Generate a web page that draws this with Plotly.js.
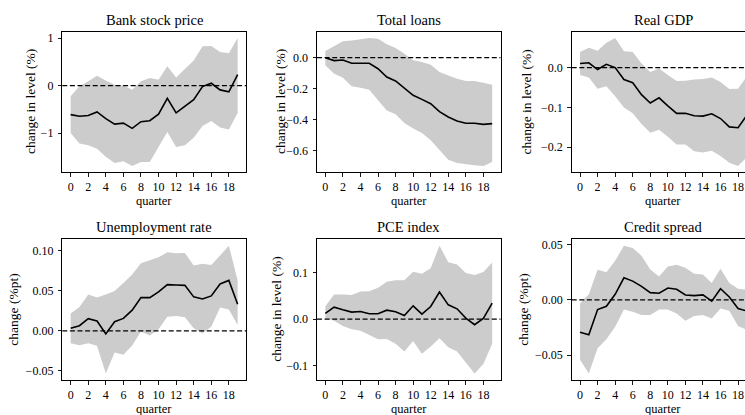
<!DOCTYPE html>
<html>
<head>
<meta charset="utf-8">
<script src="https://cdn.plot.ly/plotly-3.0.1.min.js"></script>
<style>
html, body { margin: 0; padding: 0; overflow: hidden; background: #fff; }
#chart { width: 760px; height: 415px; }
</style>
</head>
<body>
<div id="chart"></div>
<script>
// ---------- data ----------
const quarters = [0,1,2,3,4,5,6,7,8,9,10,11,12,13,14,15,16,17,18,19];
const xTickVals = [0,2,4,6,8,10,12,14,16,18];

const panelTitles = ["Bank stock price","Total loans","Real GDP","Unemployment rate","PCE index","Credit spread"];
const yLabels = ["change in level (%)","change in level (%)","change in level (%)","change (%pt)","change in level (%)","change (%pt)"];
const xLabel = "quarter";

const bankMid   = [-0.61,-0.645,-0.63,-0.555,-0.695,-0.81,-0.79,-0.90,-0.76,-0.74,-0.60,-0.27,-0.575,-0.435,-0.295,-0.02,0.05,-0.09,-0.13,0.23];
const bankUp    = [-0.225,-0.015,0.09,0.21,0.11,0.02,0.0,-0.085,0.09,0.16,0.125,0.41,0.17,0.36,0.53,0.83,0.835,0.71,0.68,1.0];
const bankLo    = [-1.0,-1.22,-1.255,-1.33,-1.5,-1.63,-1.59,-1.69,-1.61,-1.61,-1.29,-0.975,-1.29,-1.255,-1.095,-0.85,-0.745,-0.88,-0.925,-0.575];

const loansMid  = [0.0,-0.019,-0.015,-0.036,-0.036,-0.036,-0.071,-0.124,-0.15,-0.197,-0.242,-0.268,-0.296,-0.347,-0.381,-0.407,-0.422,-0.422,-0.429,-0.424];
const loansUp   = [0.043,0.075,0.105,0.111,0.118,0.126,0.122,0.086,0.062,0.026,-0.017,-0.028,-0.045,-0.092,-0.114,-0.135,-0.15,-0.15,-0.161,-0.174];
const loansLo   = [-0.049,-0.103,-0.129,-0.184,-0.193,-0.206,-0.274,-0.339,-0.364,-0.42,-0.456,-0.484,-0.531,-0.596,-0.656,-0.677,-0.686,-0.692,-0.696,-0.671];

const gdpMid    = [0.010,0.012,-0.005,0.008,0.0,-0.030,-0.038,-0.068,-0.089,-0.076,-0.096,-0.115,-0.115,-0.121,-0.122,-0.116,-0.128,-0.149,-0.151,-0.120];
const gdpUp     = [0.039,0.050,0.042,0.062,0.074,0.041,0.039,0.010,-0.011,-0.0025,-0.019,-0.034,-0.033,-0.030,-0.029,-0.025,-0.036,-0.054,-0.053,-0.022];
const gdpLo     = [-0.019,-0.025,-0.053,-0.047,-0.072,-0.100,-0.115,-0.142,-0.164,-0.156,-0.174,-0.193,-0.193,-0.210,-0.213,-0.209,-0.222,-0.239,-0.247,-0.225];

const unempMid  = [0.0033,0.0066,0.0153,0.0124,-0.0037,0.0116,0.0157,0.026,0.0417,0.0417,0.0488,0.0579,0.0574,0.057,0.0426,0.040,0.0438,0.0587,0.0632,0.0335];
const unempUp   = [0.0219,0.030,0.0455,0.0417,0.0455,0.050,0.060,0.0707,0.0847,0.0888,0.0921,0.0983,0.0971,0.0975,0.0818,0.0839,0.0826,0.0942,0.1066,0.0632];
const unempLo   = [-0.0153,-0.018,-0.0153,-0.0186,-0.0533,-0.0269,-0.0298,-0.0182,-0.0008,-0.0058,0.002,0.0178,0.0186,0.017,0.0033,-0.0029,0.0054,0.0293,0.0269,0.0074];

const pceMid    = [0.012,0.0255,0.0199,0.0149,0.0163,0.0113,0.0113,0.0191,0.0156,0.0078,0.0284,0.0106,0.027,0.058,0.0305,0.022,0.0021,-0.012,0.0014,0.034];
const pceUp     = [0.0277,0.0525,0.0525,0.0518,0.0589,0.0596,0.0674,0.0801,0.083,0.083,0.1014,0.0972,0.1092,0.1574,0.122,0.117,0.0986,0.0943,0.1007,0.1213];
const pceLo     = [0.0014,-0.0035,-0.0149,-0.022,-0.0248,-0.034,-0.0433,-0.0426,-0.0532,-0.0695,-0.0468,-0.0745,-0.0589,-0.0411,-0.0603,-0.0695,-0.0943,-0.117,-0.0965,-0.0532];

const spreadMid = [-0.0293,-0.0316,-0.0087,-0.0057,0.0051,0.020,0.017,0.0122,0.0066,0.006,0.0107,0.0096,0.0045,0.0039,0.0045,-0.0012,0.0101,0.0027,-0.0078,-0.010];
const spreadUp  = [-0.0033,0.0051,0.0272,0.0251,0.0355,0.049,0.0469,0.040,0.0275,0.0212,0.0301,0.0319,0.029,0.0236,0.023,0.0152,0.0281,0.0152,0.0101,0.0093];
const spreadLo  = [-0.054,-0.0666,-0.0436,-0.0355,-0.0242,-0.0087,-0.0107,-0.0137,-0.0137,-0.0087,-0.0087,-0.0122,-0.0188,-0.0146,-0.0137,-0.0167,-0.0078,-0.0099,-0.0236,-0.027];

const bankTicks   = [-1, 0, 1];
const bankTickTxt = ["\u22121", "0", "1"];
const loansTicks   = [-0.6, -0.4, -0.2, 0.0];
const loansTickTxt = ["\u22120.6", "\u22120.4", "\u22120.2", "0.0"];
const gdpTicks   = [-0.2, -0.1, 0.0];
const gdpTickTxt = ["\u22120.2", "\u22120.1", "0.0"];
const unempTicks   = [-0.05, 0.00, 0.05, 0.10];
const unempTickTxt = ["\u22120.05", "0.00", "0.05", "0.10"];
const pceTicks   = [-0.1, 0.0, 0.1];
const pceTickTxt = ["\u22120.1", "0.0", "0.1"];
const spreadTicks   = [-0.05, 0.00, 0.05];
const spreadTickTxt = ["\u22120.05", "0.00", "0.05"];

// ---------- layout geometry ----------
const W = 760, H = 415;
const colPx = [[62.3, 246.0], [317.0, 500.5], [571.7, 755.2]];
const rowPx = [[31.7, 172.3], [239.3, 380.0]];
const ylabX = [30.0, 280.0, 525.5, 14.0, 277.0, 524.0];

const panels = [
  {mid: bankMid,   up: bankUp,   lo: bankLo,   tv: bankTicks,   tt: bankTickTxt,   yr: [-1.825, 1.135]},
  {mid: loansMid,  up: loansUp,  lo: loansLo,  tv: loansTicks,  tt: loansTickTxt,  yr: [-0.737, 0.167]},
  {mid: gdpMid,    up: gdpUp,    lo: gdpLo,    tv: gdpTicks,    tt: gdpTickTxt,    yr: [-0.263, 0.090]},
  {mid: unempMid,  up: unempUp,  lo: unempLo,  tv: unempTicks,  tt: unempTickTxt,  yr: [-0.0613, 0.1146]},
  {mid: pceMid,    up: pceUp,    lo: pceLo,    tv: pceTicks,    tt: pceTickTxt,    yr: [-0.1307, 0.1711]},
  {mid: spreadMid, up: spreadUp, lo: spreadLo, tv: spreadTicks, tt: spreadTickTxt, yr: [-0.0724, 0.0548]}
];

const FONT = "Liberation Serif, Times New Roman, serif";
const traces = [];
const layout = {
  width: W, height: H,
  margin: {l: 0, r: 0, t: 0, b: 0},
  paper_bgcolor: "#ffffff", plot_bgcolor: "#ffffff",
  showlegend: false,
  font: {family: FONT, color: "#000000", size: 12},
  shapes: [], annotations: []
};

panels.forEach((p, i) => {
  const n = i + 1;
  const xa = "x" + (n === 1 ? "" : n), ya = "y" + (n === 1 ? "" : n);
  const col = colPx[i % 3], row = rowPx[Math.floor(i / 3)];
  traces.push({x: quarters, y: p.lo, xaxis: xa, yaxis: ya, type: "scatter", mode: "lines",
               line: {width: 0, color: "rgba(0,0,0,0)"}, hoverinfo: "skip"});
  traces.push({x: quarters, y: p.up, xaxis: xa, yaxis: ya, type: "scatter", mode: "lines",
               fill: "tonexty", fillcolor: "#cccccc", line: {width: 0, color: "rgba(0,0,0,0)"}, hoverinfo: "skip"});
  traces.push({x: quarters, y: p.mid, xaxis: xa, yaxis: ya, type: "scatter", mode: "lines",
               line: {width: 1.6, color: "#000000"}});

  const axCommon = {
    showline: true, mirror: true, linecolor: "#000000", linewidth: 1,
    ticks: "outside", ticklen: 3.5, tickwidth: 0.9, tickcolor: "#000000",
    showgrid: false, zeroline: false, fixedrange: true,
    tickfont: {family: FONT, size: 12, color: "#000000"}
  };
  layout["xaxis" + (n === 1 ? "" : n)] = Object.assign({}, axCommon, {
    domain: [col[0] / W, col[1] / W], anchor: ya, range: [-0.95, 19.95],
    tickmode: "array", tickvals: xTickVals, ticktext: xTickVals.map(String)
  });
  layout["yaxis" + (n === 1 ? "" : n)] = Object.assign({}, axCommon, {
    domain: [1 - row[1] / H, 1 - row[0] / H], anchor: xa, range: p.yr,
    tickmode: "array", tickvals: p.tv, ticktext: p.tt, ticklabelstandoff: 2
  });

  layout.shapes.push({type: "line", xref: xa + " domain", yref: ya, x0: 0, x1: 1, y0: 0, y1: 0,
                      line: {color: "#000000", width: 1.2, dash: "5px,2.6px"}, layer: "above"});

  const cx = (col[0] + col[1]) / 2 / W;
  layout.annotations.push({text: panelTitles[i], xref: "paper", yref: "paper", x: cx,
    y: 1 - (row[0] - 12.2) / H, xanchor: "center", yanchor: "middle", showarrow: false,
    font: {family: FONT, size: 14.5, color: "#000000"}});
  layout.annotations.push({text: xLabel, xref: "paper", yref: "paper", x: cx,
    y: 1 - (row[1] + 28.5) / H, xanchor: "center", yanchor: "middle", showarrow: false,
    font: {family: FONT, size: 12.5, color: "#000000"}});
  layout.annotations.push({text: yLabels[i], xref: "paper", yref: "paper", x: ylabX[i] / W,
    y: 1 - (row[0] + row[1]) / 2 / H, xanchor: "center", yanchor: "middle", textangle: -90, showarrow: false,
    font: {family: FONT, size: 13.5, color: "#000000"}});
});

Plotly.newPlot("chart", traces, layout, {displayModeBar: false, staticPlot: true});
</script>
</body>
</html>
